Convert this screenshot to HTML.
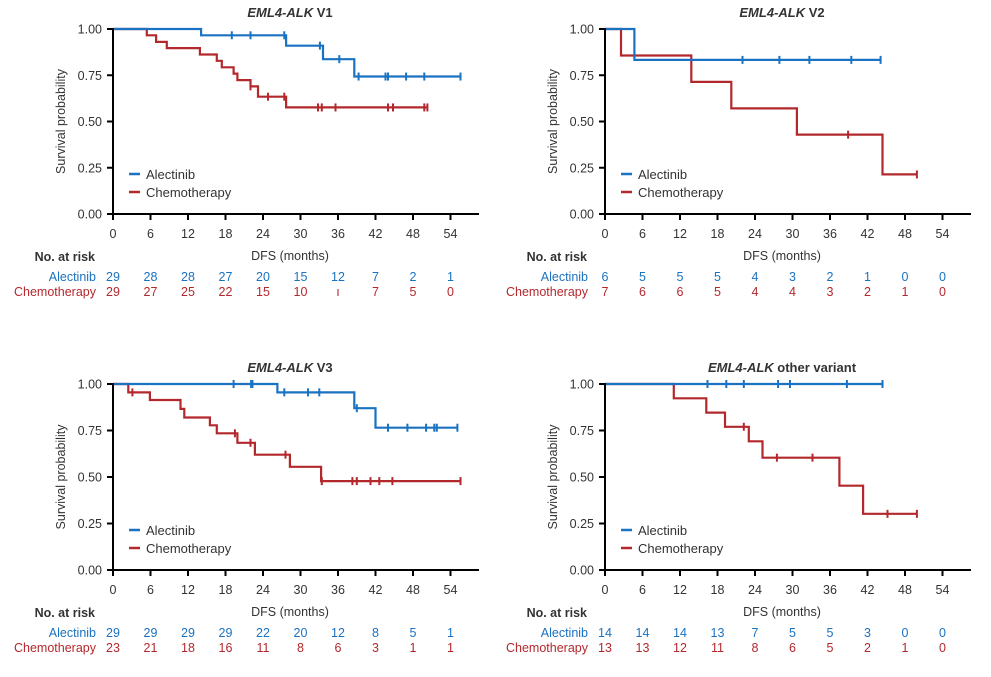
<!DOCTYPE html>
<html><head><meta charset="utf-8"><style>
body{margin:0;background:#fff;}
svg{display:block;font-family:"Liberation Sans",Arial,sans-serif;}
</style></head><body>
<svg id="s" width="991" height="677" viewBox="0 0 991 677" xmlns="http://www.w3.org/2000/svg"></svg>
<script>
const B="#1a72c2",R="#b3282d",T="#333";
const panels=[
 {x0:113,y1:29,y0:214,title:"V1",
  a:{steps:[[14.1,0.966],[27.7,0.91],[33.6,0.837],[38.6,0.743]],end:55.6,ticks:[19,22,27.4,33.1,36.2,39.3,43.6,44,46.9,49.8,55.6]},
  c:{steps:[[5.4,0.966],[6.9,0.93],[8.6,0.897],[13.9,0.862],[16.6,0.828],[17.4,0.793],[19.3,0.759],[19.9,0.724],[22,0.69],[23.2,0.634],[27.7,0.576]],end:50.3,ticks:[22,24.8,27.4,32.8,33.4,35.6,44,44.8,49.8,50.3]},
  ra:["29","28","28","27","20","15","12","7","2","1"],rc:["29","27","25","22","15","10","\u0131","7","5","0"]},
 {x0:605,y1:29,y0:214,title:"V2",
  a:{steps:[[4.7,0.833]],end:44.1,ticks:[22,27.9,32.7,39.4,44.1]},
  c:{steps:[[2.56,0.857],[13.8,0.714],[20.2,0.571],[30.7,0.429],[44.4,0.214]],end:49.9,ticks:[38.9,49.9]},
  ra:["6","5","5","5","4","3","2","1","0","0"],rc:["7","6","6","5","4","4","3","2","1","0"]},
 {x0:113,y1:384,y0:570,title:"V3",
  a:{steps:[[26.3,0.955],[38.6,0.87],[42,0.765]],end:55.1,ticks:[19.3,22.1,22.3,27.4,31.2,33,39,44,47.1,50.1,51.4,51.8,55.1]},
  c:{steps:[[2.45,0.955],[5.9,0.914],[10.8,0.866],[11.4,0.82],[15.5,0.778],[16.6,0.735],[19.9,0.684],[22.7,0.62],[28.3,0.555],[33.3,0.478]],end:55.6,ticks:[3.1,19.5,22,27.6,33.4,38.3,39,41.2,42.6,44.7,55.6]},
  ra:["29","29","29","29","22","20","12","8","5","1"],rc:["23","21","18","16","11","8","6","3","1","1"]},
 {x0:605,y1:384,y0:570,title:"other variant",
  a:{steps:[],end:44.4,ticks:[16.4,19.4,22.2,27.7,29.6,38.7,44.4]},
  c:{steps:[[11,0.923],[16.2,0.846],[19.2,0.77],[23,0.692],[25.2,0.604],[37.5,0.453],[41.3,0.302]],end:49.9,ticks:[22.2,27.5,33.2,45.2,49.9]},
  ra:["14","14","14","13","7","5","5","3","0","0"],rc:["13","13","12","11","8","6","5","2","1","0"]}
];
let h="";
for(const p of panels){
 const k=6.25, H=p.y0-p.y1;
 const X=m=>p.x0+m*k, Y=v=>p.y0-v*H;
 const cx=p.x0+177;
 // title
 h+=`<text x="${cx}" y="${p.y1-12}" text-anchor="middle" font-size="13" font-weight="bold" fill="${T}"><tspan font-style="italic">EML4-ALK</tspan> ${p.title}</text>`;
 // curves
 for(const [s,col] of [[p.c,R],[p.a,B]]){
  let d=`M${X(0)},${Y(1)}`, v=1;
  for(const [m,nv] of s.steps){d+=` H${X(m).toFixed(1)} V${Y(nv).toFixed(1)}`;v=nv;}
  d+=` H${X(s.end).toFixed(1)}`;
  h+=`<path d="${d}" fill="none" stroke="${col}" stroke-width="2.2"/>`;
  for(const t of s.ticks){
   let vv=1;for(const [m,nv] of s.steps){if(m<=t)vv=nv;}
   h+=`<line x1="${X(t).toFixed(1)}" x2="${X(t).toFixed(1)}" y1="${Y(vv)-4}" y2="${Y(vv)+4}" stroke="${col}" stroke-width="2"/>`;
  }
 }
 // axes
 h+=`<path d="M${p.x0},${p.y1-1} V${p.y0} H${p.x0+366}" fill="none" stroke="#000" stroke-width="2"/>`;
 for(let i=0;i<=4;i++){const y=Y(i/4);
  h+=`<line x1="${p.x0-6}" x2="${p.x0}" y1="${y}" y2="${y}" stroke="#000" stroke-width="2"/>`;
  h+=`<text x="${p.x0-11}" y="${y+4.5}" text-anchor="end" font-size="12.5" fill="${T}">${(i/4).toFixed(2)}</text>`;}
 for(let i=0;i<=9;i++){const x=X(i*6);
  h+=`<line x1="${x}" x2="${x}" y1="${p.y0}" y2="${p.y0+6}" stroke="#000" stroke-width="2"/>`;
  h+=`<text x="${x}" y="${p.y0+24}" text-anchor="middle" font-size="12.5" fill="${T}">${i*6}</text>`;
  h+=`<text x="${x}" y="${p.y0+67}" text-anchor="middle" font-size="12.5" fill="${B}">${p.ra[i]}</text>`;
  h+=`<text x="${x}" y="${p.y0+82}" text-anchor="middle" font-size="12.5" fill="${R}">${p.rc[i]}</text>`;}
 h+=`<text transform="translate(${p.x0-48},${(p.y0+p.y1)/2}) rotate(-90)" text-anchor="middle" font-size="12.5" fill="${T}">Survival probability</text>`;
 h+=`<text x="${cx}" y="${p.y0+46}" text-anchor="middle" font-size="12.5" fill="${T}">DFS (months)</text>`;
 h+=`<text x="${p.x0-18}" y="${p.y0+47}" text-anchor="end" font-size="12.5" font-weight="bold" fill="${T}">No. at risk</text>`;
 h+=`<text x="${p.x0-17}" y="${p.y0+67}" text-anchor="end" font-size="12.5" fill="${B}">Alectinib</text>`;
 h+=`<text x="${p.x0-17}" y="${p.y0+82}" text-anchor="end" font-size="12.5" fill="${R}">Chemotherapy</text>`;
 // legend
 const ly=p.y0-40;
 h+=`<line x1="${p.x0+16}" x2="${p.x0+27}" y1="${ly}" y2="${ly}" stroke="${B}" stroke-width="2.5"/>`;
 h+=`<text x="${p.x0+33}" y="${ly+5}" font-size="13" fill="${T}">Alectinib</text>`;
 h+=`<line x1="${p.x0+16}" x2="${p.x0+27}" y1="${ly+18}" y2="${ly+18}" stroke="${R}" stroke-width="2.5"/>`;
 h+=`<text x="${p.x0+33}" y="${ly+23}" font-size="13" fill="${T}">Chemotherapy</text>`;
}
document.getElementById("s").innerHTML=h;
</script>
</body></html>
